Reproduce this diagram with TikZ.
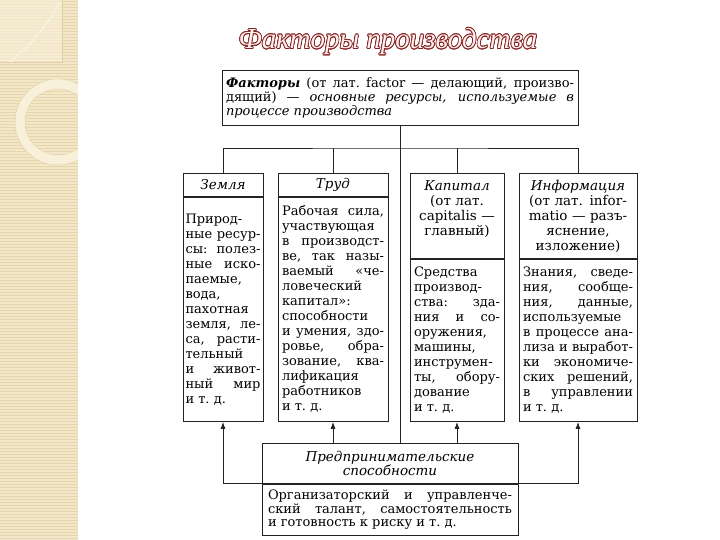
\documentclass[tikz,border=0pt]{standalone}
\usepackage{fontspec}
\setmainfont{DejaVu Serif}
\newfontfamily\titlefont{Liberation Serif}
\usepackage{contour}
\usetikzlibrary{arrows.meta, positioning}
\definecolor{stripebeige}{RGB}{243, 231, 202}
\definecolor{stripeline}{RGB}{231, 213, 172}
\definecolor{ringbeige}{RGB}{248, 240, 218}
\definecolor{ringedge}{RGB}{226, 206, 162}
\definecolor{titlered}{RGB}{130, 35, 35}
\definecolor{titlefill}{RGB}{255, 238, 236}
\definecolor{boxline}{RGB}{35, 35, 35}
\newcommand{\boxfont}[2]{\fontsize{#1}{#2}\selectfont\exhyphenpenalty=10000 }
\contourlength{0.7pt}

\begin{document}
\begin{tikzpicture}[x=1pt, y=-1pt,
    box/.style={draw=boxline, line width=0.9pt, inner xsep=4pt, inner ysep=2pt},
    head/.style={box, anchor=north, align=center, font=\boxfont{13.5}{15}},
    body/.style={box, anchor=north, align=justify, font=\boxfont{13}{15}},
    link/.style={draw=boxline, line width=0.9pt},
    arr/.style={link, -{Latex[length=7pt, width=5pt]}}]

    % Page and left stripe
    \useasboundingbox (0,0) rectangle (720,540);
    \fill[white] (0,0) rectangle (720,540);
    \fill[stripebeige] (0,0) rectangle (78,540);
    \foreach \y in {1,4,...,540}
        \draw[stripeline, line width=0.8pt] (0,\y) -- (78,\y);
    \begin{scope}
        \clip (0,0) rectangle (78,540);
        \fill[ringbeige, opacity=0.6] (0,0) rectangle (62,62);
        \draw[ringedge] (0,62) -- (62,62) -- (62,0);
        \draw[ringbeige, line width=2pt] (60,2) .. controls (45,30) and (25,50) .. (10,62);
        \fill[ringbeige, even odd rule] (58,122) circle (43) (58,122) circle (33);
        \draw[ringedge] (58,122) circle (43);
        \draw[ringedge] (58,122) circle (33);
    \end{scope}

    % Title
    \node[font=\titlefont\itshape\fontsize{29}{32}\selectfont] (title) at (388,42)
        {\contour{titlered}{\textcolor{titlefill}{Факторы производства}}};

    % Definition
    \node[body, text width=348pt, minimum height=55pt, font=\boxfont{13}{14}] (factors) at (400,70)
        {\textbf{\textit{Факторы}} (от~лат.~factor — делающий, произво-\linebreak
         дящий) — \textit{основные ресурсы, используемые в\linebreak
         процессе производства}};

    % Factors
    \node[head, text width=72pt, minimum height=23pt] (zemhead) at (223,173) {\textit{Земля}};
    \node[body, text width=75pt, inner xsep=2.5pt, minimum height=224pt, below=0pt of zemhead] (zembody)
        {Природ-\linebreak ные~ресур-\linebreak сы:~полез-\linebreak ные~иско-\linebreak
         паемые,\linebreak вода,\linebreak пахотная\linebreak земля,~ле-\linebreak
         са,~расти-\linebreak тельный\linebreak и~живот-\linebreak ный~мир\linebreak и~т.~д.};

    \node[head, text width=102pt, minimum height=23pt] (trudhead) at (333,173) {\textit{Труд}};
    \node[body, text width=102pt, minimum height=224pt, below=0pt of trudhead] (trudbody)
        {Рабочая~сила,\linebreak участвующая\linebreak в~производст-\linebreak ве,~так~назы-\linebreak
         ваемый~«че-\linebreak ловеческий\linebreak капитал»:\linebreak способности\linebreak
         и~умения,~здо-\linebreak ровье,~обра-\linebreak зование,~ква-\linebreak лификация\linebreak
         работников\linebreak и~т.~д.};

    \node[head, text width=86pt, minimum height=85pt] (kaphead) at (457,173)
        {\textit{Капитал}\\(от лат.\\capitalis —\\главный)\\ \mbox{}};
    \node[body, text width=86pt, minimum height=162pt, below=0pt of kaphead] (kapbody)
        {Средства\linebreak производ-\linebreak ства:~зда-\linebreak ния~и~со-\linebreak
         оружения,\linebreak машины,\linebreak инструмен-\linebreak ты,~обору-\linebreak
         дование\linebreak и~т.~д.};

    \node[head, text width=110pt, minimum height=85pt] (infohead) at (578,173)
        {\textit{Информация}\\(от лат. infor-\\matio — разъ-\\яснение,\\изложение)};
    \node[body, text width=110pt, minimum height=162pt, below=0pt of infohead] (infobody)
        {Знания,~сведе-\linebreak ния,~сообще-\linebreak ния,~данные,\linebreak используемые\linebreak
         в~процессе~ана-\linebreak лиза~и~выработ-\linebreak ки~экономиче-\linebreak
         ских~решений,\linebreak в~управлении\linebreak и~т.~д.};

    % Entrepreneurship
    \node[head, text width=248pt, minimum height=40pt, font=\boxfont{13.5}{13.5}] (entrhead) at (390,443)
        {\textit{Предпринимательские}\\\textit{способности}};
    \node[body, text width=244pt, inner xsep=6pt, minimum height=51pt, font=\boxfont{13}{13.5},
          below=0pt of entrhead] (entrbody)
        {Организаторский~и~управленче-\linebreak ский~талант,~самостоятельность\linebreak
         и~готовность~к~риску~и~т.~д.};

    % Connectors
    \coordinate (bus) at (400,148);
    \draw[link] (factors.south) -- (factors.south |- entrhead.north);
    \draw[link] (zemhead.north) |- (bus) -| (infohead.north);
    \draw[link] (trudhead.north) -- (trudhead.north |- bus);
    \draw[link] (kaphead.north) -- (kaphead.north |- bus);

    \draw[arr] (entrhead.south west) -| (zembody.south);
    \draw[arr] (entrhead.south east) -| (infobody.south);
    \draw[arr] (entrhead.north -| trudbody.south) -- (trudbody.south);
    \draw[arr] (entrhead.north -| kapbody.south) -- (kapbody.south);
\end{tikzpicture}
\end{document}
